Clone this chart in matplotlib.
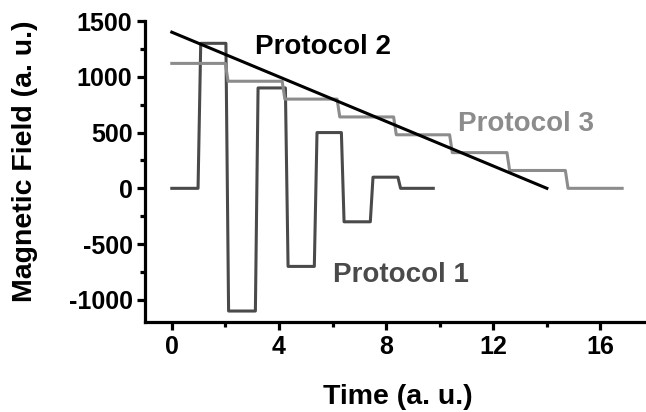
import matplotlib
matplotlib.use('Agg')
import matplotlib.pyplot as plt
from matplotlib.ticker import MultipleLocator

plt.rcParams['font.family'] = 'Liberation Sans'
plt.rcParams['font.weight'] = 'bold'
plt.rcParams['axes.unicode_minus'] = False

# Protocol 1: switching times and field levels (decaying alternating pulses)
p1_times = [0, 1.03, 2.07, 3.17, 4.29, 5.37, 6.38, 7.46, 8.49, 9.76]
p1_levels = [0, 1300, -1100, 900, -700, 500, -300, 100, 0]

# Protocol 2: linear ramp down
p2_times = [0, 14.0]
p2_levels = [1400, 0]

# Protocol 3: staircase
p3_times = [0, 2.05, 4.17, 6.22, 8.33, 10.42, 12.56, 14.74, 16.81]
p3_levels = [1120, 960, 800, 640, 480, 320, 160, 0]

ramp = 0.1  # transitions are drawn slightly slanted as in the original


def step_path(times, levels):
    xs, ys = [times[0]], [levels[0]]
    for i in range(1, len(levels)):
        xs += [times[i] - ramp / 2, times[i] + ramp / 2]
        ys += [levels[i - 1], levels[i]]
    xs.append(times[-1])
    ys.append(levels[-1])
    return xs, ys


W, H = 646, 412
fig = plt.figure(figsize=(W / 100, H / 100), dpi=100)
ax = fig.add_axes([145 / W, 0.218, 1 - 145 / W, 0.731])

x1, y1 = step_path(p1_times, p1_levels)
x3, y3 = step_path(p3_times, p3_levels)
ax.plot(x1, y1, color='#4a4a4a', lw=2.2)
ax.plot(x3, y3, color='#8c8c8c', lw=2.2)
ax.plot(p2_times, p2_levels, color='black', lw=2.2)

# labels placed in figure pixel coords (measured from the top)
ax.text(255 / W, 1 - 47 / H, 'Protocol 2', transform=fig.transFigure,
        fontsize=20, color='black', va='center', ha='left')
ax.text(458 / W, 1 - 124 / H, 'Protocol 3', transform=fig.transFigure,
        fontsize=20, color='#8c8c8c', va='center', ha='left')
ax.text(333 / W, 1 - 275 / H, 'Protocol 1', transform=fig.transFigure,
        fontsize=20, color='#4a4a4a', va='center', ha='left')

ax.set_xlim(-1, 17.7)
ax.set_ylim(-1200, 1500)
ax.xaxis.set_major_locator(MultipleLocator(4))
ax.xaxis.set_minor_locator(MultipleLocator(2))
ax.yaxis.set_major_locator(MultipleLocator(500))
ax.yaxis.set_minor_locator(MultipleLocator(250))

for s in ['top', 'right']:
    ax.spines[s].set_visible(False)
for s in ['left', 'bottom']:
    ax.spines[s].set_linewidth(2.3)
ax.tick_params(which='major', direction='out', length=6, width=2.3,
               labelsize=18, pad=3)
ax.tick_params(which='minor', direction='out', length=3.5, width=2.3)

ax.set_xlabel('Time (a. u.)', fontsize=20.5, fontweight='bold')
ax.set_ylabel('Magnetic Field (a. u.)', fontsize=20.5, fontweight='bold')
ax.xaxis.set_label_coords(398 / W, 1 - 397 / H, transform=fig.transFigure)
ax.yaxis.set_label_coords(25 / W, 1 - 161 / H, transform=fig.transFigure)
ax.xaxis.label.set_va('center')
ax.yaxis.label.set_va('center')

fig.savefig('out.png', dpi=100)
